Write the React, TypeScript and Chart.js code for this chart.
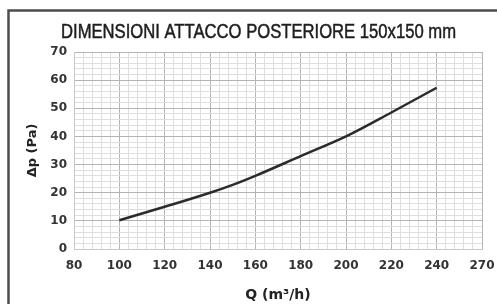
import { useEffect, useRef } from "react";
import { Chart, registerables } from "chart.js";

Chart.register(...registerables);

const TITLE = "DIMENSIONI ATTACCO POSTERIORE 150x150 mm";
const X_TITLE = "Q (m³/h)";
const Y_TITLE = "Δp (Pa)";
const X_TICKS = [80, 100, 120, 140, 160, 180, 200, 220, 240, 270];
const Y_MIN = 0;
const Y_MAX = 70;
const Y_MAJOR = 10;
const MINOR_PER_MAJOR = 5;
const FLOW = [100, 120, 140, 150, 160, 180, 200, 220, 240];
const PRESSURE = [10.2, 15, 20, 22.8, 26, 33, 40, 48.5, 57.3];

// Map a flow value onto the evenly spaced tick positions of the x axis
function qToIndex(q: number): number {
  for (let i = 0; i < X_TICKS.length - 1; i++) {
    const a = X_TICKS[i];
    const b = X_TICKS[i + 1];
    if (q >= a && q <= b) return i + (q - a) / (b - a);
  }
  return X_TICKS.length - 1;
}

const isMajor = (v: number, step: number) => Math.abs(v / step - Math.round(v / step)) < 1e-6;

const TICK_FONT = { family: "'DejaVu Sans', sans-serif", size: 12, weight: "bold" as const };

const framePlugin = {
  id: "frameAndTitle",
  afterDraw(chart: Chart) {
    const ctx = chart.ctx;
    ctx.save();
    ctx.strokeStyle = "#4d4d4d";
    ctx.lineWidth = 2.5;
    ctx.beginPath();
    ctx.moveTo(8.5, chart.height);
    ctx.lineTo(8.5, 10.5);
    ctx.lineTo(chart.width, 10.5);
    ctx.stroke();
    ctx.fillStyle = "#1e1e1e";
    ctx.font = "20px 'Liberation Sans', 'DejaVu Sans', sans-serif";
    ctx.textAlign = "center";
    ctx.textBaseline = "alphabetic";
    const w = ctx.measureText(TITLE).width;
    const sx = Math.min(1, 395 / w);
    ctx.translate(258.5, 37.5);
    ctx.scale(sx, 1);
    ctx.lineWidth = 0.5;
    ctx.strokeStyle = "#1e1e1e";
    ctx.fillText(TITLE, 0, 0);
    ctx.strokeText(TITLE, 0, 0);
    ctx.restore();
  },
};

export default function App() {
  const ref = useRef<HTMLCanvasElement | null>(null);
  useEffect(() => {
    if (!ref.current) return;
    const chart = new Chart(ref.current, {
      type: "line",
      data: {
        datasets: [
          {
            data: FLOW.map((q, i) => ({ x: qToIndex(q), y: PRESSURE[i] })),
            borderColor: "#2b2b2b",
            borderWidth: 2.5,
            pointRadius: 0,
            tension: 0.4,
            cubicInterpolationMode: "monotone",
            fill: false,
          },
        ],
      },
      plugins: [framePlugin],
      options: {
        animation: false,
        responsive: false,
        layout: { padding: { top: 52, right: 15, left: 0, bottom: 0 } },
        plugins: { legend: { display: false }, tooltip: { enabled: false }, title: { display: false } },
        scales: {
          x: {
            type: "linear",
            min: 0,
            max: X_TICKS.length - 1,
            afterFit: (s: any) => {
              s.height = 55;
              s.paddingLeft = 0;
              s.paddingRight = 0;
            },
            ticks: {
              stepSize: 1 / MINOR_PER_MAJOR,
              autoSkip: false,
              maxRotation: 0,
              padding: 10,
              color: "#333",
              font: TICK_FONT,
              callback: (v: any) => (isMajor(Number(v), 1) ? String(X_TICKS[Math.round(Number(v))]) : ""),
            },
            grid: {
              drawTicks: false,
              color: (c: any) => (isMajor(c.tick.value, 1) ? "#b4b4b4" : "#dedede"),
              lineWidth: 1,
            },
            border: { color: "#c8c8c8" },
            title: {
              display: true,
              text: X_TITLE,
              color: "#222",
              font: { family: "'DejaVu Sans', sans-serif", size: 14, weight: "bold" },
              padding: { top: 0, bottom: 0 },
            },
          },
          y: {
            type: "linear",
            min: Y_MIN,
            max: Y_MAX,
            afterFit: (s: any) => {
              s.width = 74;
            },
            ticks: {
              stepSize: Y_MAJOR / MINOR_PER_MAJOR,
              autoSkip: false,
              padding: 7,
              color: "#333",
              font: TICK_FONT,
              callback: (v: any) => (isMajor(Number(v), Y_MAJOR) ? String(Math.round(Number(v))) : ""),
            },
            grid: {
              drawTicks: false,
              color: (c: any) => (isMajor(c.tick.value, Y_MAJOR) ? "#b4b4b4" : "#dedede"),
              lineWidth: 1,
            },
            border: { color: "#c8c8c8" },
            title: {
              display: true,
              text: Y_TITLE,
              color: "#222",
              font: { family: "'DejaVu Sans', sans-serif", size: 13, weight: "bold" },
              padding: { top: 25, bottom: 0 },
            },
          },
        },
      },
    });
    return () => chart.destroy();
  }, []);
  return (
    <div style={{ position: "fixed", left: 0, top: 0, width: 497, height: 304, background: "#fff" }}>
      <canvas ref={ref} width={497} height={304} style={{ display: "block" }} />
    </div>
  );
}
